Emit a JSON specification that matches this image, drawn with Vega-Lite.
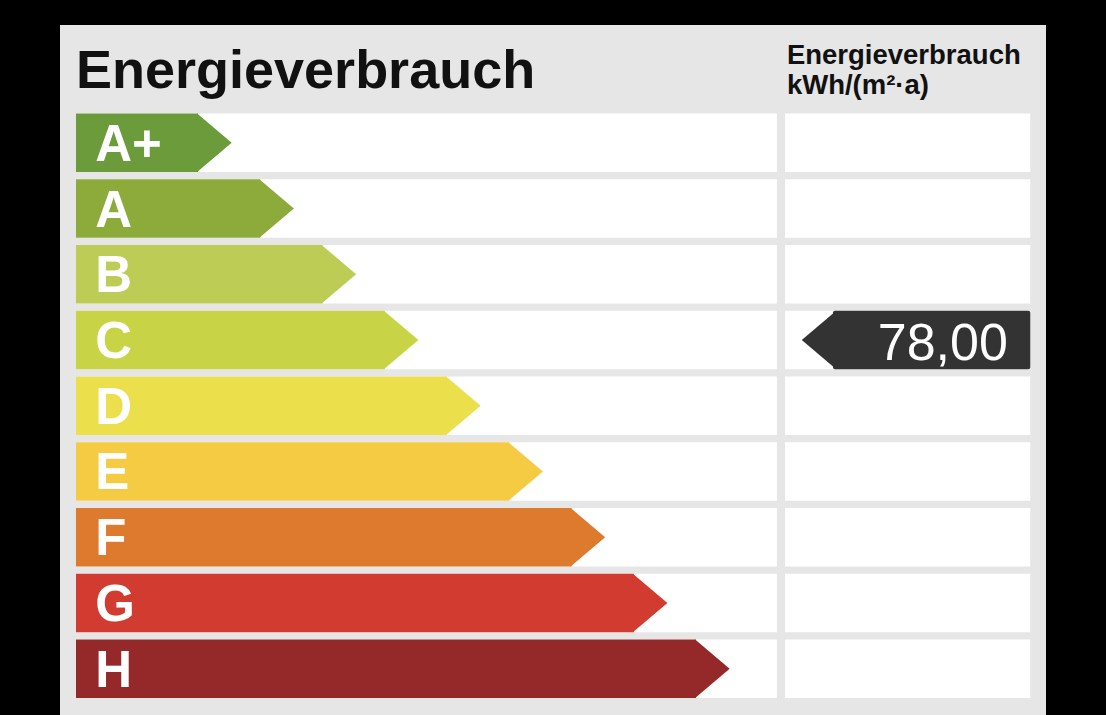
{
  "$schema": "https://vega.github.io/schema/vega-lite/v6.json",
  "width": 986,
  "height": 690,
  "autosize": {"type": "none"},
  "padding": {"left": 60, "top": 25, "right": 60, "bottom": 0},
  "background": "#000000",
  "config": {
    "view": {"fill": "#e6e6e6", "stroke": null},
    "axis": {"disable": true},
    "legend": {"disable": true},
    "locale": {"number": {"decimal": ",", "thousands": ".", "grouping": [3], "currency": ["", " €"]}}
  },
  "datasets": {
    "klassen": [
      {"klasse": "A+", "stufe": 1},
      {"klasse": "A", "stufe": 2},
      {"klasse": "B", "stufe": 3},
      {"klasse": "C", "stufe": 4},
      {"klasse": "D", "stufe": 5},
      {"klasse": "E", "stufe": 6},
      {"klasse": "F", "stufe": 7},
      {"klasse": "G", "stufe": 8},
      {"klasse": "H", "stufe": 9}
    ],
    "wert": [{"klasse": "C", "wert": 78}],
    "kopf": [{"klasse": "Kopf", "titel": "Energieverbrauch", "einheit": "Energieverbrauch\nkWh/(m²·a)"}]
  },
  "layer": [
    {
      "data": {"name": "klassen"},
      "mark": {"type": "rect", "color": "#ffffff"},
      "encoding": {
        "x": {"datum": -0.96, "type": "quantitative", "axis": null, "scale": {"domain": [0, 10], "range": [75.75, 698.25], "nice": false, "zero": false}},
        "x2": {"datum": 10.3, "type": "quantitative"},
        "y": {"field": "klasse", "type": "nominal", "axis": null, "scale": {"domain": ["Kopf", "A+", "A", "B", "C", "D", "E", "F", "G", "H"], "range": [22.75, 673], "paddingInner": 0.11, "paddingOuter": 0}}
      }
    },
    {
      "data": {"name": "klassen"},
      "mark": {"type": "rect", "color": "#ffffff"},
      "encoding": {
        "x": {"datum": 10.43, "type": "quantitative", "axis": null},
        "x2": {"datum": 14.37, "type": "quantitative"},
        "y": {"field": "klasse", "type": "nominal", "axis": null}
      }
    },
    {
      "data": {"name": "klassen"},
      "mark": {"type": "rect"},
      "encoding": {
        "x": {"field": "stufe", "type": "quantitative", "axis": null},
        "x2": {"datum": -0.96, "type": "quantitative"},
        "y": {"field": "klasse", "type": "nominal", "axis": null},
        "color": {"field": "klasse", "type": "nominal", "legend": null, "scale": {"domain": ["A+", "A", "B", "C", "D", "E", "F", "G", "H"], "range": ["#6b9b3a", "#8dab3b", "#bccc55", "#c8d446", "#ebe04b", "#f6cb44", "#de7a2d", "#d13b30", "#952829"]}}
      }
    },
    {
      "data": {"name": "klassen"},
      "mark": {"type": "point", "shape": "M-0.03,-1L1.15,0L-0.03,1Z", "filled": true, "opacity": 1, "size": 3425, "strokeWidth": 0},
      "encoding": {
        "x": {"field": "stufe", "type": "quantitative", "axis": null},
        "y": {"field": "klasse", "type": "nominal", "axis": null},
        "color": {"field": "klasse", "type": "nominal", "legend": null}
      }
    },
    {
      "data": {"name": "klassen"},
      "mark": {"type": "text", "align": "left", "baseline": "alphabetic", "dy": 18, "font": "Liberation Sans", "fontWeight": "bold", "fontSize": 51, "color": "#ffffff"},
      "encoding": {
        "x": {"datum": -0.65, "type": "quantitative", "axis": null},
        "y": {"field": "klasse", "type": "nominal", "axis": null},
        "text": {"field": "klasse", "type": "nominal"}
      }
    },
    {
      "data": {"name": "wert"},
      "mark": {"type": "rect", "color": "#333333", "cornerRadius": 2},
      "encoding": {
        "x": {"datum": 11.2, "type": "quantitative", "axis": null},
        "x2": {"datum": 14.37, "type": "quantitative"},
        "y": {"field": "klasse", "type": "nominal", "axis": null}
      }
    },
    {
      "data": {"name": "wert"},
      "mark": {"type": "point", "shape": "M0.05,-1L-1.13,0L0.05,1Z", "filled": true, "opacity": 1, "size": 3425, "strokeWidth": 0, "color": "#333333"},
      "encoding": {
        "x": {"datum": 11.23, "type": "quantitative", "axis": null},
        "y": {"field": "klasse", "type": "nominal", "axis": null}
      }
    },
    {
      "data": {"name": "wert"},
      "mark": {"type": "text", "align": "right", "baseline": "alphabetic", "dy": 20, "font": "Liberation Sans", "fontSize": 52, "color": "#ffffff"},
      "encoding": {
        "x": {"datum": 14.01, "type": "quantitative", "axis": null},
        "y": {"field": "klasse", "type": "nominal", "axis": null},
        "text": {"field": "wert", "type": "quantitative", "format": ".2f"}
      }
    },
    {
      "data": {"name": "kopf"},
      "mark": {"type": "text", "align": "left", "baseline": "alphabetic", "dy": 11, "font": "Liberation Sans", "fontWeight": "bold", "fontSize": 54, "color": "#111111"},
      "encoding": {
        "x": {"datum": -0.96, "type": "quantitative", "axis": null},
        "y": {"field": "klasse", "type": "nominal", "axis": null},
        "text": {"field": "titel", "type": "nominal"}
      }
    },
    {
      "data": {"name": "kopf"},
      "mark": {"type": "text", "align": "left", "baseline": "alphabetic", "dy": -13, "lineBreak": "\n", "lineHeight": 30, "font": "Liberation Sans", "fontWeight": "bold", "fontSize": 27.5, "color": "#111111"},
      "encoding": {
        "x": {"datum": 10.46, "type": "quantitative", "axis": null},
        "y": {"field": "klasse", "type": "nominal", "axis": null},
        "text": {"field": "einheit", "type": "nominal"}
      }
    }
  ]
}
